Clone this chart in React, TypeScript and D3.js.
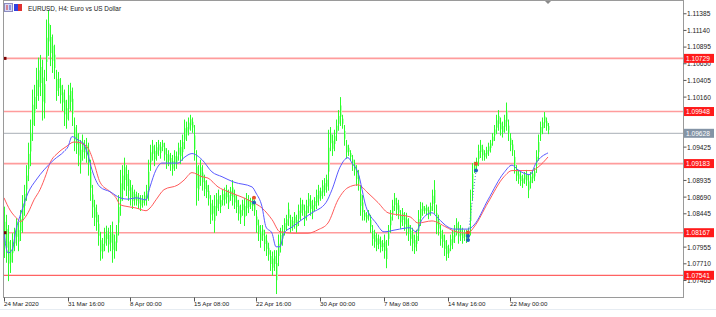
import React from "react";
import * as d3 from "d3";

// ---- DATA ----
const highs = [
  1.0855,1.0843,1.0828,1.0806,1.0816,1.0824,1.0838,1.0833,1.0850,1.0872,
  1.0887,1.0916,1.0949,1.0983,1.1027,1.1034,1.1059,1.1074,1.1078,1.1071,
  1.1056,1.1130,1.1144,1.1122,1.1108,1.1093,1.1056,1.1053,1.1044,1.1034,
  1.1027,1.1012,1.1034,1.1037,1.1030,1.0986,1.0975,1.0963,1.0953,1.0961,
  1.0953,1.0956,1.0949,1.0924,1.0887,1.0865,1.0858,1.0843,1.0818,1.0809,
  1.0824,1.0827,1.0824,1.0828,1.0833,1.0814,1.0828,1.0872,1.0909,1.0916,
  1.0927,1.0916,1.0909,1.0894,1.0887,1.0880,1.0877,1.0875,1.0872,1.0872,
  1.0877,1.0887,1.0924,1.0946,1.0953,1.0946,1.0950,1.0953,1.0950,1.0953,
  1.0949,1.0941,1.0938,1.0934,1.0931,1.0938,1.0936,1.0949,1.0953,1.0961,
  1.0983,1.0980,1.0986,1.0990,1.0986,1.0975,1.0938,1.0916,1.0924,1.0916,
  1.0902,1.0894,1.0887,1.0872,1.0865,1.0872,1.0875,1.0880,1.0872,1.0880,
  1.0883,1.0887,1.0880,1.0884,1.0894,1.0880,1.0872,1.0865,1.0858,1.0865,
  1.0868,1.0875,1.0872,1.0868,1.0869,1.0865,1.0850,1.0836,1.0828,1.0828,
  1.0821,1.0814,1.0802,1.0791,1.0789,1.0791,1.0791,1.0814,1.0824,1.0828,
  1.0838,1.0843,1.0861,1.0843,1.0840,1.0847,1.0843,1.0858,1.0868,1.0865,
  1.0858,1.0865,1.0875,1.0872,1.0865,1.0869,1.0880,1.0887,1.0883,1.0894,
  1.0897,1.0902,1.0968,1.0972,1.0961,1.0968,1.0983,1.0997,1.1016,1.0990,
  1.0975,1.0953,1.0946,1.0938,1.0931,1.0924,1.0916,1.0909,1.0887,1.0872,
  1.0850,1.0847,1.0850,1.0843,1.0828,1.0821,1.0816,1.0814,1.0811,1.0806,
  1.0814,1.0806,1.0828,1.0850,1.0865,1.0875,1.0868,1.0865,1.0850,1.0853,
  1.0847,1.0846,1.0838,1.0828,1.0824,1.0814,1.0821,1.0850,1.0862,1.0861,
  1.0856,1.0858,1.0855,1.0861,1.0880,1.0894,1.0858,1.0843,1.0828,1.0821,
  1.0814,1.0806,1.0799,1.0814,1.0821,1.0828,1.0838,1.0833,1.0828,1.0824,
  1.0821,1.0821,1.0824,1.0880,1.0919,1.0921,1.0927,1.0946,1.0953,1.0946,
  1.0938,1.0943,1.0949,1.0953,1.0963,1.0975,1.0990,1.0997,1.0986,1.0980,
  1.0990,1.1008,1.0983,1.0963,1.0953,1.0938,1.0916,1.0909,1.0906,1.0902,
  1.0906,1.0909,1.0902,1.0906,1.0909,1.0912,1.0938,1.0961,1.0980,1.0986,
  1.0994,1.0986,1.0978,
];
const lows = [
  1.0781,1.0774,1.0747,1.0759,1.0774,1.0791,1.0799,1.0791,1.0806,1.0818,
  1.0843,1.0865,1.0894,1.0916,1.0953,1.0975,1.1000,1.1012,1.1019,1.0983,
  1.0986,1.1041,1.1078,1.1063,1.1053,1.1044,1.1012,1.1019,1.1008,1.0997,
  1.0975,1.0971,1.0983,1.0997,1.0975,1.0938,1.0934,1.0916,1.0905,1.0924,
  1.0927,1.0921,1.0902,1.0865,1.0840,1.0828,1.0821,1.0799,1.0777,1.0780,
  1.0791,1.0799,1.0789,1.0791,1.0774,1.0780,1.0791,1.0814,1.0843,1.0865,
  1.0880,1.0872,1.0865,1.0858,1.0853,1.0858,1.0858,1.0853,1.0850,1.0855,
  1.0858,1.0858,1.0865,1.0909,1.0924,1.0916,1.0924,1.0931,1.0927,1.0938,
  1.0924,1.0912,1.0916,1.0909,1.0902,1.0909,1.0912,1.0924,1.0919,1.0924,
  1.0941,1.0953,1.0961,1.0968,1.0965,1.0924,1.0858,1.0865,1.0887,1.0880,
  1.0872,1.0869,1.0858,1.0831,1.0836,1.0818,1.0843,1.0850,1.0847,1.0858,
  1.0858,1.0861,1.0853,1.0865,1.0858,1.0853,1.0847,1.0836,1.0831,1.0843,
  1.0828,1.0843,1.0847,1.0853,1.0850,1.0843,1.0818,1.0806,1.0796,1.0806,
  1.0791,1.0784,1.0777,1.0762,1.0755,1.0762,1.0728,1.0769,1.0789,1.0799,
  1.0814,1.0821,1.0828,1.0818,1.0821,1.0824,1.0818,1.0828,1.0836,1.0843,
  1.0828,1.0836,1.0847,1.0843,1.0838,1.0850,1.0853,1.0858,1.0865,1.0868,
  1.0872,1.0877,1.0880,1.0938,1.0931,1.0938,1.0953,1.0968,1.0975,1.0971,
  1.0946,1.0927,1.0931,1.0924,1.0909,1.0902,1.0887,1.0880,1.0843,1.0836,
  1.0836,1.0833,1.0836,1.0818,1.0799,1.0796,1.0791,1.0794,1.0789,1.0791,
  1.0780,1.0766,1.0799,1.0818,1.0836,1.0850,1.0843,1.0838,1.0824,1.0828,
  1.0821,1.0814,1.0806,1.0799,1.0791,1.0787,1.0791,1.0806,1.0828,1.0843,
  1.0846,1.0844,1.0838,1.0843,1.0850,1.0846,1.0816,1.0814,1.0799,1.0796,
  1.0784,1.0777,1.0781,1.0791,1.0794,1.0803,1.0814,1.0802,1.0806,1.0802,
  1.0806,1.0803,1.0806,1.0814,1.0865,1.0906,1.0909,1.0916,1.0928,1.0924,
  1.0924,1.0927,1.0931,1.0936,1.0946,1.0953,1.0963,1.0968,1.0961,1.0958,
  1.0965,1.0968,1.0953,1.0938,1.0931,1.0905,1.0894,1.0890,1.0887,1.0884,
  1.0890,1.0887,1.0869,1.0883,1.0891,1.0894,1.0906,1.0924,1.0953,1.0963,
  1.0972,1.0968,1.0963,
];

// Fast MA (blue): [bar index, price]
const fastMA: [number, number][] = [
  [0,1.0816],[2,1.0787],[4,1.0791],[6,1.0821],[9,1.0850],[12,1.0875],[16,1.0894],
  [20,1.0909],[25,1.0924],[30,1.0936],[32,1.0943],[34,1.0958],[37,1.0953],[40,1.0946],
  [42,1.0931],[44,1.0909],[48,1.0884],[53,1.0877],[58,1.0868],[62,1.0866],[66,1.0868],
  [71,1.0865],[73,1.0884],[76,1.0909],[79,1.0919],[87,1.0919],[90,1.0927],[94,1.0933],
  [99,1.0924],[104,1.0906],[109,1.0899],[115,1.0891],[124,1.0884],[126,1.0875],
  [129,1.0855],[131,1.0825],[134,1.0816],[136,1.0796],[138,1.0796],[140,1.0816],
  [144,1.0825],[149,1.0836],[154,1.0846],[161,1.0861],[164,1.0880],[168,1.0913],
  [172,1.0927],[174,1.0919],[177,1.0905],[181,1.0855],[186,1.0831],[190,1.0818],
  [196,1.0821],[203,1.0824],[206,1.0818],[209,1.0836],[214,1.0846],[217,1.0838],
  [222,1.0825],[225,1.0822],[232,1.0822],[235,1.0828],[242,1.0865],[250,1.0905],
  [254,1.0916],[257,1.0909],[263,1.0902],[266,1.0919],[272,1.0934],
];
// Slow MA (red): [bar index, price]
const slowMA: [number, number][] = [
  [0,1.0868],[3,1.0850],[7,1.0836],[8,1.0833],[12,1.0846],[15,1.0865],[18,1.0880],
  [21,1.0902],[23,1.0919],[27,1.0934],[31,1.0943],[35,1.0950],[38,1.0949],[42,1.0941],
  [45,1.0919],[48,1.0891],[53,1.0877],[56,1.0868],[58,1.0858],[62,1.0855],[66,1.0853],
  [71,1.0849],[73,1.0853],[76,1.0865],[80,1.0880],[87,1.0887],[90,1.0894],[94,1.0905],
  [99,1.0899],[102,1.0897],[107,1.0884],[112,1.0877],[119,1.0869],[124,1.0862],
  [129,1.0853],[134,1.0836],[138,1.0818],[145,1.0816],[152,1.0816],[157,1.0821],
  [162,1.0831],[167,1.0865],[172,1.0883],[177,1.0887],[182,1.0875],[187,1.0861],
  [192,1.0846],[197,1.0843],[203,1.0840],[207,1.0831],[214,1.0834],[221,1.0825],
  [226,1.0818],[232,1.0816],[235,1.0825],[242,1.0861],[250,1.0899],[254,1.0908],
  [264,1.0908],[267,1.0913],[272,1.0928],
];

const levelLines = [1.10729, 1.09948, 1.09183, 1.08167, 1.07541];
const levelLabels = ["1.10729", "1.09948", "1.09183", "1.08167", "1.07541"];
const currentPrice = 1.09628;
const currentLabel = "1.09628";
// scale labels that the level boxes do not hide
const priceTicks = [1.11385,1.1114,1.10895,1.1065,1.10405,1.1016,1.09425,1.08935,1.0869,1.08445,1.07955,1.0771,1.07465];
const timeTickBars = [0, 32, 63, 95, 126, 158, 190, 222, 253];
const timeTickLabels = ["24 Mar 2020","31 Mar 16:00","8 Apr 00:00","15 Apr 08:00","22 Apr 16:00","30 Apr 00:00","7 May 08:00","14 May 16:00","22 May 00:00"];
// trade markers: [bar, price, type]
const tradeMarks: [number, number, string][] = [
  [125, 1.0868, "sell"], [125, 1.0861, "buy"],
  [236, 1.0918, "sell"], [236, 1.0908, "buy"],
  [232, 1.0817, "sell"], [232, 1.0812, "buy"], [232, 1.0806, "buy"],
];
const tradeLink: [number, number][] = [[232, 1.0811], [236, 1.0908]];
const title = "EURUSD, H4:  Euro vs US Dollar";

export default function App() {
  const W = 716, H = 317;
  const left = 3.5, right = 683.5, top = 0.5, bottom = 297.5;
  const x = d3.scaleLinear().domain([0, 338]).range([4, 680]);
  const y = d3.scaleLinear().domain([1.07541, 1.09628]).range([275.3, 133.3]);
  const line = d3.line<[number, number]>().x(d => x(d[0])).y(d => y(d[1])).curve(d3.curveMonotoneX);
  const font = "'Liberation Sans', Arial, sans-serif";

  return (
    <svg width={W} height={H} style={{ display: "block", position: "absolute", left: 0, top: 0, background: "#fff" }}>
      <rect x={0} y={0} width={W} height={H} fill="#fff" />
      <line x1={0} x2={W} y1={309.5} y2={309.5} stroke="#e6ecf2" />
      <defs>
        <clipPath id="plot"><rect x={left} y={top} width={right - left} height={bottom - top} /></clipPath>
      </defs>
      <g clipPath="url(#plot)">
        {levelLines.map((v, i) => (
          <line key={i} x1={left} x2={right} y1={y(v)} y2={y(v)}
            stroke={i === levelLines.length - 1 ? "#ff3b3b" : "#ff9c9c"}
            strokeWidth={i === levelLines.length - 1 ? 1 : 1.6} />
        ))}
        <line x1={left} x2={right} y1={y(currentPrice)} y2={y(currentPrice)} stroke="#a8aeb6" strokeWidth={1} />
        {highs.map((h, i) => (
          <line key={i} x1={x(i) + 0.5} x2={x(i) + 0.5} y1={y(h)} y2={y(lows[i]) + 1} stroke="#2bff2b" strokeWidth={1} />
        ))}
        {highs.map((h, i) => (
          <line key={"b" + i} x1={x(i) + 1.5} x2={x(i) + 1.5}
            y1={(y(h) * 0.7 + y(lows[i]) * 0.3)} y2={(y(h) * 0.3 + y(lows[i]) * 0.7)}
            stroke="#b6ffb6" strokeWidth={1} />
        ))}
        <path d={line(slowMA) || ""} fill="none" stroke="#ff5a5a" strokeWidth={1} />
        <path d={line(fastMA) || ""} fill="none" stroke="#5a5aff" strokeWidth={1} />
        <line x1={x(tradeLink[0][0])} y1={y(tradeLink[0][1])} x2={x(tradeLink[1][0])} y2={y(tradeLink[1][1])}
          stroke="#4a7fd0" strokeWidth={1} strokeDasharray="1,2" />
        {tradeMarks.map((m, i) => (
          <circle key={i} cx={x(m[0])} cy={y(m[1])} r={2} fill={m[2] === "sell" ? "#e8502a" : "#1f63b8"} />
        ))}
        <rect x={left} y={y(levelLines[0]) - 1.5} width={3} height={3} fill="#7a0000" />
        <rect x={left} y={y(levelLines[3]) - 1.5} width={3} height={3} fill="#7a0000" />
      </g>
      {/* frame */}
      <rect x={left} y={top} width={right - left} height={bottom - top} fill="none" stroke="#9a9a9a" strokeWidth={1} />
      <path d={`M${x(272) - 3},1 L${x(272) + 3},1 L${x(272)},4 Z`} fill="#8a8a8a" />
      {/* title */}
      <rect x={4.5} y={3.5} width={8} height={8} fill="#d8d8f4" stroke="#8c8cc0" />
      <line x1={7} x2={7} y1={5} y2={10} stroke="#d03030" />
      <line x1={10} x2={10} y1={5} y2={10} stroke="#3050d0" />
      <rect x={14} y={4} width={4} height={7} fill="#3040e0" />
      <rect x={18} y={4} width={4} height={7} fill="#e03030" />
      <text x={28} y={10.5} fontFamily={font} fontSize={6.4} fill="#202020">{title}</text>
      {/* price axis */}
      {priceTicks.map((v, i) => (
        <g key={i}>
          <line x1={right} x2={right + 3} y1={y(v)} y2={y(v)} stroke="#555" />
          <text x={687} y={y(v) + 2.4} fontFamily={font} fontSize={6.6} fill="#222">{v.toFixed(5)}</text>
        </g>
      ))}
      {levelLines.map((v, i) => (
        <g key={"l" + i}>
          <rect x={684} y={y(v) - 4.5} width={30} height={9} fill="#ff1a1a" />
          <text x={686} y={y(v) + 2.4} fontFamily={font} fontSize={6.6} fill="#fff">{levelLabels[i]}</text>
        </g>
      ))}
      <rect x={684} y={y(currentPrice) - 4.5} width={30} height={9} fill="#8494a6" />
      <text x={686} y={y(currentPrice) + 2.4} fontFamily={font} fontSize={6.6} fill="#fff">{currentLabel}</text>
      {/* time axis */}
      {timeTickBars.map((b, i) => (
        <g key={"t" + i}>
          <line x1={x(b) + 0.5} x2={x(b) + 0.5} y1={bottom} y2={bottom + 4} stroke="#555" />
          <text x={x(b)} y={305.5} fontFamily={font} fontSize={6.2} fill="#222">{timeTickLabels[i]}</text>
        </g>
      ))}
    </svg>
  );
}
